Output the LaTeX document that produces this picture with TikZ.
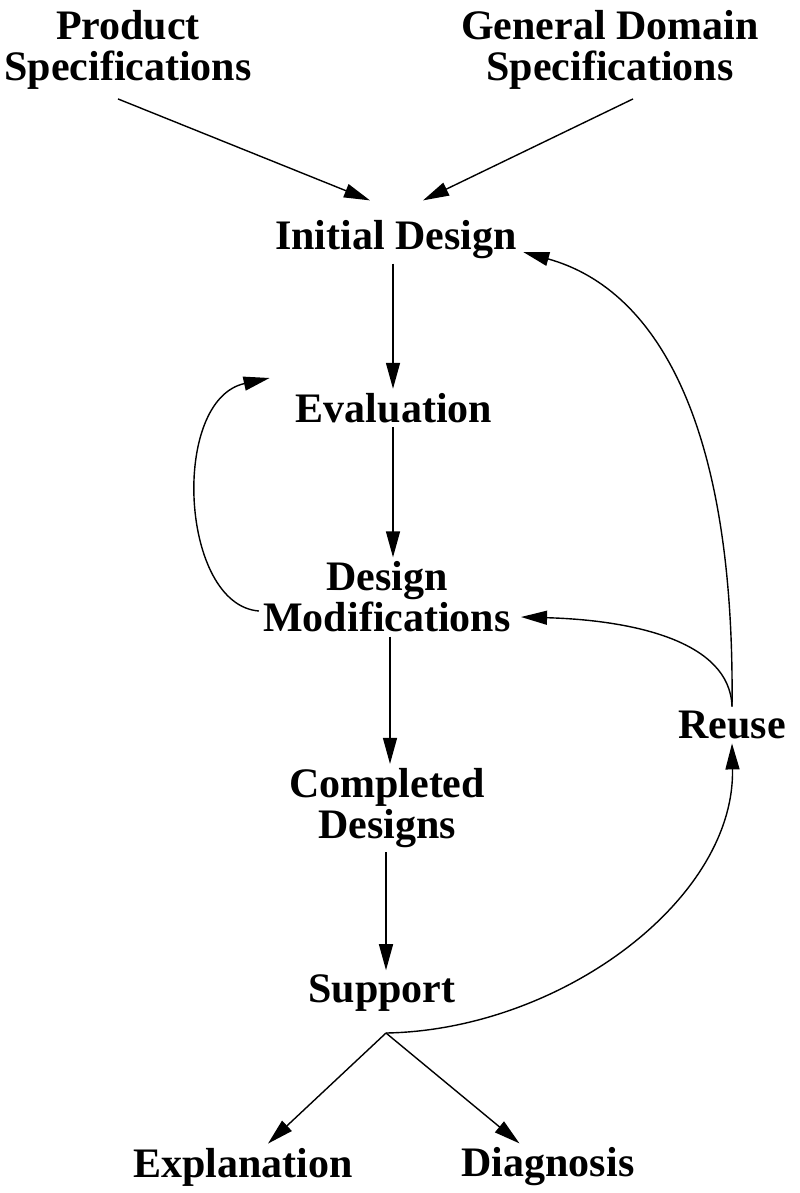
\documentclass[tikz,border=0pt]{standalone}
\usepackage{fontspec}
\setmainfont{Liberation Serif}
\usetikzlibrary{arrows.meta,calc,positioning}

\tikzset{
  lbl/.style={font=\fontsize{21}{20.5}\selectfont\bfseries, align=center, inner sep=2pt},
  arr/.style={-{Triangle[length=13pt,width=7pt]}, line width=0.7pt},
}

\begin{document}
\begin{tikzpicture}[x=0.5pt,y=-0.5pt]
  \useasboundingbox (0,0) rectangle (799,1193);
  % stages
  \node[lbl] (prod)  at (128,50)  {Product\\Specifications};
  \node[lbl] (gen)   at (610,50)  {General Domain\\Specifications};
  \node[lbl] (init)  at (396,240) {Initial Design};
  \node[lbl] (eval)  at (394,408) {Evaluation};
  \node[lbl] (mod)   at (387,597) {Design\\Modifications};
  \node[lbl] (compl) at (387,808) {Completed\\Designs};
  \node[lbl] (supp)  at (382,993) {Support};
  \node[lbl] (reuse) at (732,725) {Reuse};
  \node[lbl] (expl)  at (243,1167) {Explanation};
  \node[lbl] (diag)  at (548,1167) {Diagnosis};
  \coordinate (fork) at (386,1033);
  % main flow
  \draw[arr] ($(prod.south)+(-10,5)$) -- ($(init.north)+(-26,-16)$);
  \draw[arr] ($(gen.south)+(23,5)$) -- ($(init.north)+(27,-16)$);
  \draw[arr] (init.south -| 393,0) -- (eval.north -| 393,0);
  \draw[arr] (eval.south -| 393,0) -- (mod.north -| 393,0);
  \draw[arr] (mod.south -| 390,0) -- (compl.north -| 390,0);
  \draw[arr] (compl.south -| 386,0) -- (supp.north -| 386,0);
  \draw[arr] (fork) -- (expl);
  \draw[arr] (fork) -- (diag);
  % loops
  \draw[arr] ($(mod.west)+(0,14)$) .. controls (180,605) and (170,400) .. ($(eval.west)+(-22,-30)$);
  \draw[arr] (fork) .. controls (560,1030) and (735,900) .. (reuse.south);
  \draw[arr] (reuse.north) .. controls (730,640) and (630,620) .. ($(mod.east)+(6,20)$);
  \draw[arr] (reuse.north) .. controls (735,430) and (660,290) .. ($(init.east)+(2,12)$);
\end{tikzpicture}
\end{document}
